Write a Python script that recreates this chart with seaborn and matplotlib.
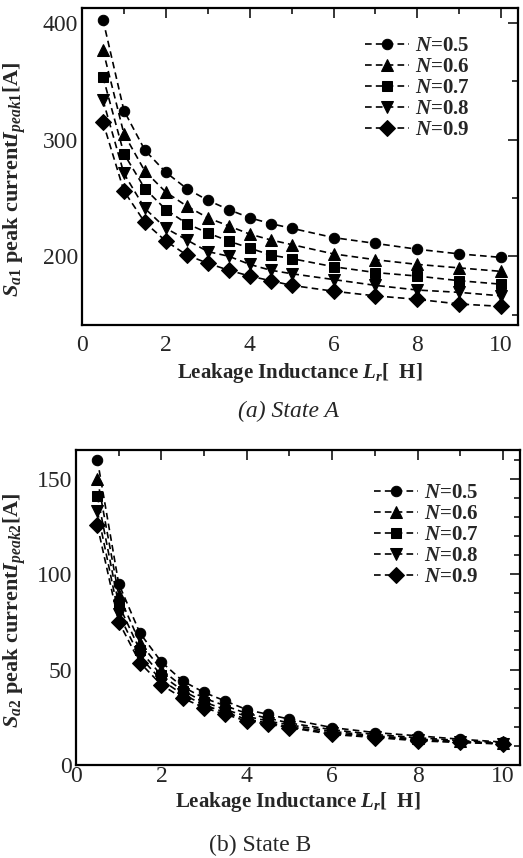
import numpy as np
import pandas as pd
import matplotlib
matplotlib.use("Agg")
import matplotlib.pyplot as plt
import seaborn as sns
from matplotlib.ticker import MultipleLocator

# Data
L_r = [0.5, 1, 1.5, 2, 2.5, 3, 3.5, 4, 4.5, 5, 6, 7, 8, 9, 10]
N_labels = ["0.5", "0.6", "0.7", "0.8", "0.9"]

# State A: S_a1 peak current I_peak1 [A]
stateA_05 = [403, 325, 291, 272, 258, 248, 240, 233, 228, 224, 216, 211, 206, 202, 199]
stateA_06 = [377, 305, 273, 255, 243, 233, 226, 219, 214, 210, 202, 197, 193, 190, 187]
stateA_07 = [354, 288, 258, 240, 228, 220, 213, 207, 201, 198, 191, 186, 183, 179, 176]
stateA_08 = [334, 271, 241, 224, 214, 204, 200, 193, 188, 185, 180, 175, 171, 169, 166]
stateA_09 = [315, 256, 229, 213, 201, 194, 188, 183, 179, 175, 170, 166, 163, 159, 157]

# State B: S_a2 peak current I_peak2 [A]
stateB_05 = [160, 95, 69, 54, 44, 38, 33.5, 29, 26.5, 24, 19.6, 17, 15.3, 13.5, 12]
stateB_06 = [150, 89, 64, 50, 41, 35, 31, 27, 24.5, 22, 18.5, 16, 14.3, 12.8, 11.6]
stateB_07 = [141, 84, 60, 47, 39, 33, 29, 25.5, 23, 21, 17.6, 15.3, 13.6, 12.3, 11.3]
stateB_08 = [133, 79, 56.5, 44.5, 37, 31.5, 27.5, 24, 22, 20, 16.7, 14.8, 13.1, 12, 11.1]
stateB_09 = [125.5, 75, 53.5, 42, 35, 30, 26.5, 23, 21.4, 19.6, 16, 14.4, 12.7, 11.8, 11]

markers = ["o", "^", "s", "v", "D"]
msizes = [7.5, 8, 7.5, 8, 8]

sns.set_style("white")
plt.rcParams["font.family"] = ["Liberation Serif", "DejaVu Serif"]
plt.rcParams["mathtext.fontset"] = "custom"
plt.rcParams["mathtext.rm"] = "Liberation Serif:bold"
plt.rcParams["mathtext.it"] = "Liberation Serif:italic:bold"
plt.rcParams["mathtext.bf"] = "Liberation Serif:bold"


def long_df(series):
    rows = []
    for lab, vals in zip(N_labels, series):
        for x, y in zip(L_r, vals):
            rows.append({"L": x, "I": y, "N": lab})
    return pd.DataFrame(rows)


dfA = long_df([stateA_05, stateA_06, stateA_07, stateA_08, stateA_09])
dfB = long_df([stateB_05, stateB_06, stateB_07, stateB_08, stateB_09])

fig = plt.figure(figsize=(5.23, 8.58), dpi=100)
W, H = 523, 858
axA = fig.add_axes([82 / W, 1 - 325 / H, (518 - 82) / W, (325 - 8) / H])
axB = fig.add_axes([76 / W, 1 - 765 / H, (520 - 76) / W, (765 - 450) / H])


def draw(ax, df, ylabel, ylim, ymin, yticks, ylab_xy, leg_xy, xpad, xlpad):
    for lab, m, ms in zip(N_labels, markers, msizes):
        sub = df[df["N"] == lab]
        sns.lineplot(data=sub, x="L", y="I", ax=ax, color="black",
                     linestyle=(0, (4, 2.5)), linewidth=1.2, marker=m,
                     markersize=ms, markeredgecolor="black",
                     label=r"$N$=" + lab, legend=False)
    ax.set_xlim(0, 10.4)
    ax.set_ylim(*ylim)
    ax.xaxis.set_major_locator(MultipleLocator(2))
    ax.xaxis.set_minor_locator(MultipleLocator(1))
    ax.set_yticks(yticks)
    ax.yaxis.set_minor_locator(MultipleLocator(ymin))
    ax.tick_params(which="both", direction="in", top=True, right=True,
                   labelsize=17, width=1.3, pad=3)
    ax.tick_params(axis="x", which="both", pad=xpad)
    ax.tick_params(which="major", length=7)
    ax.tick_params(which="minor", length=4)
    for s in ax.spines.values():
        s.set_linewidth(1.6)
        s.set_color("black")
    ax.set_xlabel(r"Leakage Inductance $L_r$[  H]", fontsize=15,
                  fontweight="bold", labelpad=xlpad)
    ax.set_ylabel(ylabel, fontsize=16, fontweight="bold")
    ax.yaxis.set_label_coords(*ylab_xy)
    ax.legend(loc="upper right", bbox_to_anchor=leg_xy,
              frameon=False, handlelength=2.1,
              handletextpad=0.3, labelspacing=0.05, borderpad=0.2,
              prop={"weight": "bold", "size": 15})


draw(axA, dfA, r"$S_{a1}$ peak current$I_{peak1}$[A]", (141, 413), 50,
     [200, 300, 400], (-0.124, 0.46), (0.923, 0.958), 7, 4)
draw(axB, dfB, r"$S_{a2}$ peak current$I_{peak2}$[A]", (0, 165), 10,
     [0, 50, 100, 150], (-0.108, 0.49), (0.94, 0.942), 1, 2)

fig.text(288 / W, 1 - 411 / H, "(a) State A", ha="center",
         va="center", fontsize=17, style="italic")
fig.text(260 / W, 1 - 845 / H, "(b) State B", ha="center",
         va="center", fontsize=17)

fig.savefig("out.png", dpi=100)
